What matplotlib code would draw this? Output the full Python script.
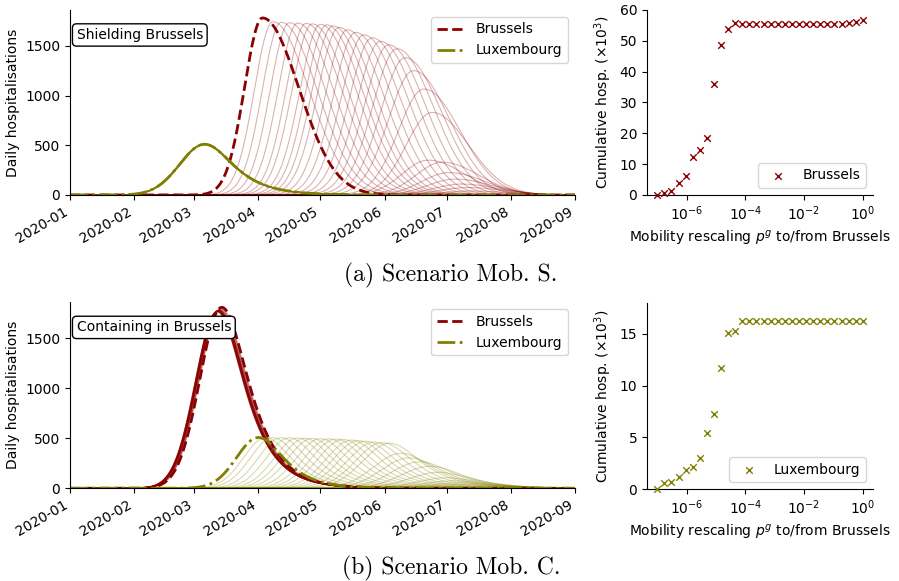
import numpy as np
import pandas as pd
import matplotlib.pyplot as plt
import matplotlib.dates as mdates

# colours of the two provinces
BRU = '#8b0000'
LUX = '#808000'

# mobility rescaling p^g, one simulation per value
p_values = [1.00e-07, 1.74e-07, 3.04e-07, 5.30e-07, 9.24e-07, 1.61e-06, 2.81e-06,
            4.89e-06, 8.53e-06, 1.49e-05, 2.59e-05, 4.52e-05, 7.88e-05, 1.37e-04,
            2.40e-04, 4.18e-04, 7.28e-04, 1.27e-03, 2.21e-03, 3.86e-03, 6.72e-03,
            1.17e-02, 2.04e-02, 3.56e-02, 6.21e-02, 1.08e-01, 1.89e-01, 3.29e-01,
            5.74e-01, 1.00e+00]

# cumulative hospitalisations (x1000)
cum_bru_S = [0.0, 0.8, 1.4, 3.8, 6.2, 12.2, 14.5, 18.4, 36.1, 48.6, 53.9, 55.7,
             55.6, 55.6, 55.6, 55.6, 55.6, 55.6, 55.6, 55.6, 55.6, 55.6, 55.6,
             55.6, 55.6, 55.6, 55.6, 55.8, 56.2, 56.8]
cum_lux_C = [0.0, 0.55, 0.7, 1.2, 1.8, 2.1, 2.95, 5.4, 7.2, 11.7, 15.1, 15.3,
             16.2, 16.2, 16.2, 16.2, 16.2, 16.2, 16.2, 16.2, 16.2, 16.2, 16.2,
             16.2, 16.2, 16.2, 16.2, 16.2, 16.2, 16.2]

# daily hospitalisation curves: peak day (days after 2020-01-01) and peak height
# scenario S (shielding Brussels)
bru_S_day = [196, 194, 192, 189, 186, 183, 180, 173, 175, 171, 166, 162, 158, 154,
             150, 146, 142, 138, 134, 130, 127, 124, 121, 117, 114, 110, 106, 102,
             98, 93]
bru_S_h = [0, 40, 75, 110, 160, 225, 330, 350, 830, 1065, 1250, 1380, 1470, 1510,
           1545, 1580, 1610, 1635, 1660, 1685, 1700, 1710, 1715, 1720, 1725, 1728,
           1732, 1736, 1742, 1780]
lux_S_day = [64.6, 64.7, 64.7, 64.8, 64.8, 64.9, 64.9, 65.0, 65.0, 65.0, 65.0,
             65.1, 65.1, 65.2, 65.2, 65.3, 65.3, 65.4, 65.4, 65.0, 65.0, 65.0,
             65.0, 65.0, 65.0, 65.0, 65.0, 65.0, 65.0, 65.0]
lux_S_h = [508, 510, 512, 509, 511, 510, 508, 512, 510, 510, 510, 509, 511, 510,
           508, 512, 510, 509, 511, 510, 510, 510, 510, 510, 510, 510, 510, 510,
           510, 510]

# scenario C (containing in Brussels)
bru_C_day = [71.0, 71.0, 71.1, 71.1, 71.2, 71.2, 71.3, 71.3, 71.4, 71.4, 71.5,
             71.5, 71.6, 71.6, 71.7, 71.7, 71.8, 71.8, 71.9, 71.9, 72.0, 72.0,
             72.1, 72.2, 72.3, 72.5, 72.7, 72.9, 73.1, 73.3]
bru_C_h = [1765, 1766, 1767, 1768, 1769, 1770, 1770, 1771, 1772, 1772, 1773, 1773,
           1774, 1774, 1775, 1775, 1776, 1776, 1777, 1777, 1778, 1779, 1780, 1782,
           1784, 1787, 1790, 1794, 1800, 1810]
lux_C_day = [197, 195, 193, 190, 188, 185, 182, 178, 174, 169, 164, 160, 154.5,
             151, 147, 143, 139.5, 136, 132, 128.5, 125, 121, 117, 113.5, 110,
             106, 102, 98, 94.5, 91]
lux_C_h = [0, 15, 25, 40, 55, 75, 105, 160, 220, 265, 305, 350, 450, 456, 462, 470,
           476, 482, 488, 492, 494, 496, 498, 500, 503, 505, 506, 507, 507, 508]

days = np.arange(0, 244.5, 0.5)
dates = pd.Timestamp('2020-01-01') + pd.to_timedelta(days, unit='D')


def bump(t0, h, sl, sr, tail='sech'):
    """Epidemic-like hump: gaussian rise, gaussian or sech decay."""
    d = days - t0
    if tail == 'sech':
        right = 1 / np.cosh(d / sr)
    else:
        right = np.exp(-0.5 * (d / sr) ** 2)
    return h * np.where(d < 0, np.exp(-0.5 * (d / sl) ** 2), right)


def plotCurves(ax, bru_day, bru_h, lux_day, lux_h, bru_w, lux_w, label):
    for i in range(len(p_values) - 1):
        ax.plot(dates, bump(bru_day[i], bru_h[i], *bru_w(bru_day[i])),
                color=BRU, lw=0.8, alpha=0.3)
        ax.plot(dates, bump(lux_day[i], lux_h[i], *lux_w(lux_day[i])),
                color=LUX, lw=0.8, alpha=0.3)
    ax.plot(dates, bump(bru_day[-1], bru_h[-1], *bru_w(bru_day[-1])),
            color=BRU, lw=2, ls='--', label='Brussels')
    ax.plot(dates, bump(lux_day[-1], lux_h[-1], *lux_w(lux_day[-1])),
            color=LUX, lw=2, ls='-.', label='Luxembourg')
    ax.set_xlim(pd.Timestamp('2020-01-01'), pd.Timestamp('2020-09-01'))
    ax.set_ylim(0, 1860)
    ax.set_yticks([0, 500, 1000, 1500])
    ax.xaxis.set_major_locator(mdates.MonthLocator())
    ax.xaxis.set_major_formatter(mdates.DateFormatter('%Y-%m'))
    plt.setp(ax.get_xticklabels(), rotation=30, ha='right')
    ax.set_ylabel('Daily hospitalisations')
    ax.legend(loc='upper right')
    ax.text(0.013, 0.865, label, transform=ax.transAxes, va='center',
            bbox=dict(boxstyle='round', fc='white', ec='black'))
    ax.spines[['top', 'right']].set_visible(False)


def plotCumul(ax, cum, color, label, ymax, yticks):
    ax.scatter(p_values, cum, marker='x', s=22, lw=1, color=color, label=label,
               clip_on=False, zorder=3)
    ax.set_xscale('log')
    ax.set_xticks([1e-6, 1e-4, 1e-2, 1e0])
    ax.minorticks_off()
    ax.set_ylim(0, ymax)
    ax.set_yticks(yticks)
    ax.set_xlabel('Mobility rescaling $p^g$ to/from Brussels')
    ax.set_ylabel(r'Cumulative hosp. ($\times 10^3$)')
    ax.legend(loc='lower right')
    ax.spines[['top', 'right']].set_visible(False)


plt.rcParams['font.size'] = 10
fig = plt.figure(figsize=(8.99, 5.81), dpi=100)

ax1 = fig.add_axes([0.0779, 0.6644, 0.5617, 0.3184])
ax2 = fig.add_axes([0.7197, 0.6644, 0.2514, 0.3184])
ax3 = fig.add_axes([0.0779, 0.1596, 0.5617, 0.3201])
ax4 = fig.add_axes([0.7197, 0.1583, 0.2514, 0.3207])

# widths of the humps grow for the later (delayed) epidemics
plotCurves(ax1, bru_S_day, bru_S_h, lux_S_day, lux_S_h,
           lambda t: (8.7 + 0.047 * (t - 93), 17.5, 'gauss'),
           lambda t: (12.0, 12.5), 'Shielding Brussels')
plotCurves(ax3, bru_C_day, bru_C_h, lux_C_day, lux_C_h,
           lambda t: (10.5, 11.6),
           lambda t: (10.5 + 0.04 * (t - 91), 11.0 + 0.04 * (t - 91)),
           'Containing in Brussels')

plotCumul(ax2, cum_bru_S, BRU, 'Brussels', 60, [0, 10, 20, 30, 40, 50, 60])
plotCumul(ax4, cum_lux_C, LUX, 'Luxembourg', 18, [0, 5, 10, 15])

fig.text(0.5017, 0.5267, '(a) Scenario Mob. S.', family='cmr10', fontsize=17,
         ha='center', va='center')
fig.text(0.5017, 0.0224, '(b) Scenario Mob. C.', family='cmr10', fontsize=17,
         ha='center', va='center')

plt.savefig('out.png', dpi=100)
